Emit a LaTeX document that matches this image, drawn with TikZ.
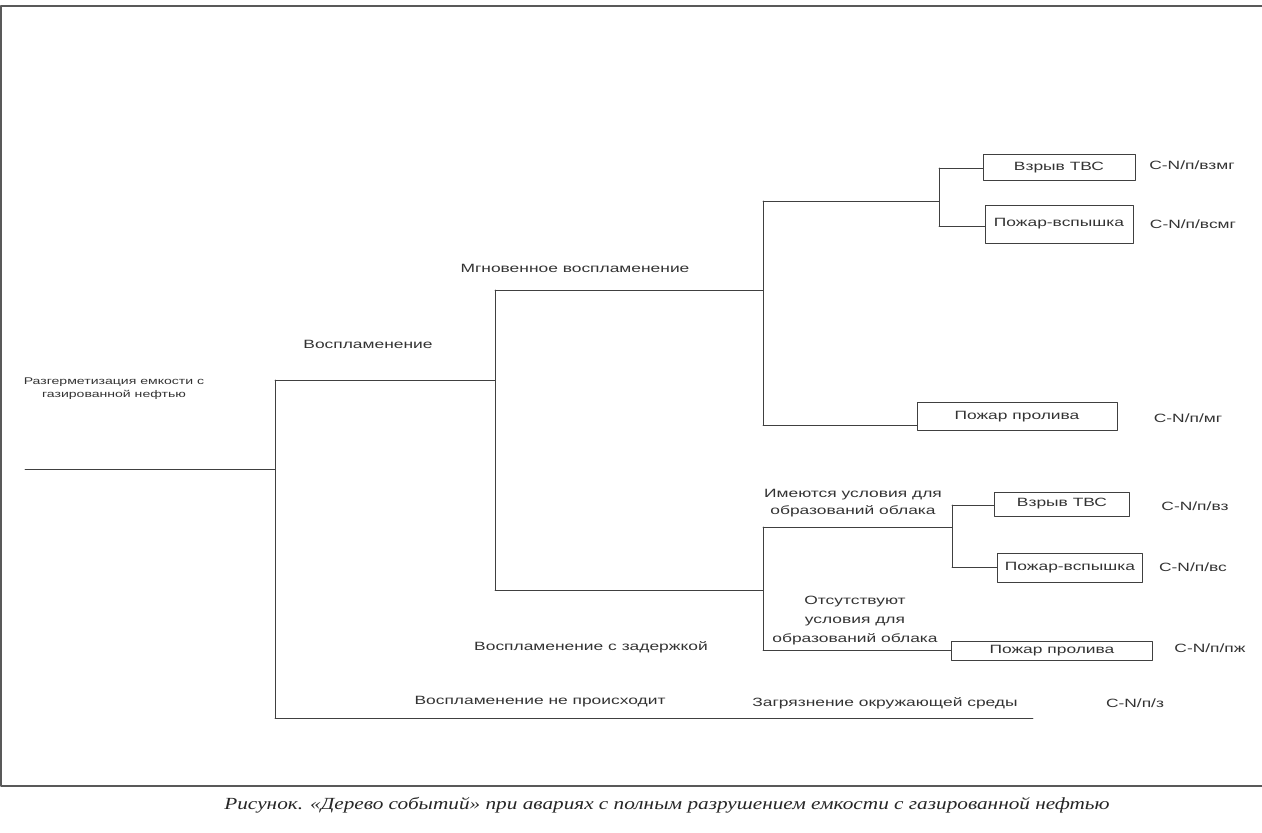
\documentclass[tikz,border=0pt]{standalone}
\usepackage{fontspec}
\newfontfamily\lblfont[FakeStretch=1.45]{Liberation Sans}
\newfontfamily\capfont[FakeStretch=1.25]{Liberation Serif}

\begin{document}
\begin{tikzpicture}[x=1pt, y=-1pt, line cap=round, line join=round,
    every node/.style={text=black!80, font=\lblfont\fontsize{12}{14}\selectfont},
    tree/.style={draw=black!75, line width=0.6pt},
    evbox/.style={draw=black!75, line width=0.6pt, inner sep=0pt},
    multiline/.style={align=center, font=\lblfont\fontsize{12}{#1}\selectfont}]
    \useasboundingbox (0,0) rectangle (1262,833);
    % frame
    \draw[black!65, line width=1.2pt] (1262,6) -- (1,6) -- (1,786) -- (1262,786);
    % branch points
    \coordinate (r0) at (25,469);
    \coordinate (ja) at (275,469);
    \coordinate (jat) at (275,380);
    \coordinate (jab) at (275,718);
    \coordinate (jb) at (495,380);
    \coordinate (jbt) at (495,290);
    \coordinate (jbb) at (495,590);
    \coordinate (jc) at (763,290);
    \coordinate (jct) at (763,201);
    \coordinate (jcb) at (763,425);
    \coordinate (jd) at (939,201);
    \coordinate (jdt) at (939,168);
    \coordinate (jdb) at (939,226);
    \coordinate (je) at (763,590);
    \coordinate (jet) at (763,527);
    \coordinate (jeb) at (763,650);
    \coordinate (jf) at (952,527);
    \coordinate (jft) at (952,505);
    \coordinate (jfb) at (952,567);
    \coordinate (zend) at (1033,718);
    % outcome boxes
    \foreach \name/\cx/\cy/\w/\h/\txt in {tvsa/1059/167.5/152/26/{Взрыв ТВС},
        flasha/1059/224/148/38/{Пожар-вспышка}, poola/1017/416.5/200/28/{Пожар пролива},
        tvsb/1062/504/135/24/{Взрыв ТВС}, flashb/1070/567.5/145/29/{Пожар-вспышка},
        poolb/1052/651/201/19/{Пожар пролива}}
        \node[evbox, minimum width=\w, minimum height=\h] (\name) at (\cx,\cy) {\txt};
    % tree lines
    \foreach \a/\b in {r0/ja, jat/jab, jat/jb, jbt/jbb, jbt/jc, jct/jcb, jct/jd, jdt/jdb,
        jbb/je, jet/jeb, jet/jf, jft/jfb, jab/zend}
        \draw[tree] (\a) -- (\b);
    \foreach \a/\b in {jdt/tvsa, jdb/flasha, jcb/poola, jft/tvsb, jfb/flashb, jeb/poolb}
        \draw[tree] (\a) -- (\a -| \b.west);
    % branch labels
    \node[align=center, font=\lblfont\fontsize{9.7}{13}\selectfont] (root) at (114,389) {Разгерметизация емкости с\\газированной нефтью};
    \node (ign) at (368,344) {Воспламенение};
    \node (inst) at (575,268) {Мгновенное воспламенение};
    \node (delay) at (591,647) {Воспламенение с задержкой};
    \node (noign) at (540,702) {Воспламенение не происходит};
    \node[multiline=17] (cloud) at (853,503.5) {Имеются условия для\\образований облака};
    \node[multiline=19] (nocloud) at (855,621) {Отсутствуют\\условия для\\образований облака};
    \node (env) at (885,703) {Загрязнение окружающей среды};
    % frequency codes
    \foreach \name/\cx/\cy/\code in {ca/1192/165/взмг, cb/1193/224/всмг, cc/1188/418/мг,
        cd/1195/506/вз, ce/1193/567/вс, cf/1210/648/пж, cg/1135/703/з}
        \node (\name) at (\cx,\cy) {C-N/п/\code};
    \node[font=\capfont\itshape\fontsize{17}{19}\selectfont, text=black!85] (caption) at (667,805) {Рисунок. «Дерево событий» при авариях с полным разрушением емкости с газированной нефтью};
\end{tikzpicture}
\end{document}
